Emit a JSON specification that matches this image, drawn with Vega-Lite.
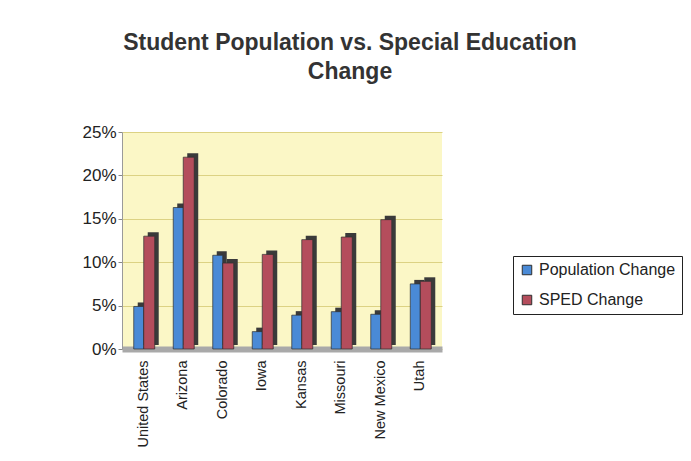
{
  "$schema": "https://vega.github.io/schema/vega-lite/v6.json",
  "autosize": "none",
  "width": 320,
  "height": 217,
  "padding": {"left": 122, "top": 132, "right": 249, "bottom": 112},
  "background": "white",
  "title": {
    "text": ["Student Population vs. Special Education", "Change"],
    "font": "Liberation Sans",
    "fontSize": 23,
    "fontWeight": "bold",
    "color": "#333333",
    "lineHeight": 29,
    "anchor": "middle",
    "frame": "group",
    "dx": 68,
    "offset": 39
  },
  "data": {
    "values": [
      {"state": "United States", "series": "Population Change", "value": 0.049},
      {"state": "United States", "series": "SPED Change", "value": 0.130},
      {"state": "Arizona", "series": "Population Change", "value": 0.163},
      {"state": "Arizona", "series": "SPED Change", "value": 0.221},
      {"state": "Colorado", "series": "Population Change", "value": 0.108},
      {"state": "Colorado", "series": "SPED Change", "value": 0.099},
      {"state": "Iowa", "series": "Population Change", "value": 0.020},
      {"state": "Iowa", "series": "SPED Change", "value": 0.109},
      {"state": "Kansas", "series": "Population Change", "value": 0.039},
      {"state": "Kansas", "series": "SPED Change", "value": 0.126},
      {"state": "Missouri", "series": "Population Change", "value": 0.043},
      {"state": "Missouri", "series": "SPED Change", "value": 0.129},
      {"state": "New Mexico", "series": "Population Change", "value": 0.040},
      {"state": "New Mexico", "series": "SPED Change", "value": 0.149},
      {"state": "Utah", "series": "Population Change", "value": 0.075},
      {"state": "Utah", "series": "SPED Change", "value": 0.078}
    ]
  },
  "encoding": {
    "x": {
      "field": "state",
      "type": "nominal",
      "sort": null,
      "scale": {"paddingInner": 0, "paddingOuter": 0.05},
      "axis": {
        "title": null,
        "labelAngle": -90,
        "labelFont": "Liberation Sans",
        "labelFontSize": 14.5,
        "labelColor": "#222222",
        "labelPadding": 11,
        "ticks": false,
        "domainColor": "#a9a9a9",
        "domainWidth": 6
      }
    },
    "y": {
      "field": "value",
      "type": "quantitative",
      "scale": {"domain": [0, 0.25], "nice": false},
      "axis": {
        "title": null,
        "format": ".0%",
        "values": [0, 0.05, 0.1, 0.15, 0.2, 0.25],
        "labelFont": "Liberation Sans",
        "labelFontSize": 17,
        "labelColor": "#222222",
        "labelPadding": 2,
        "tickSize": 4,
        "tickColor": "#888888",
        "domainColor": "#9a9a9a",
        "gridColor": "#dcd283",
        "gridWidth": 1
      }
    }
  },
  "layer": [
    {
      "transform": [{"filter": "datum.series === 'Population Change'"}],
      "mark": {"type": "bar", "color": "#3a3a3a", "width": 10, "xOffset": -1, "yOffset": -4}
    },
    {
      "transform": [{"filter": "datum.series === 'SPED Change'"}],
      "mark": {"type": "bar", "color": "#3a3a3a", "width": 11, "xOffset": 9.5, "yOffset": -4}
    },
    {
      "transform": [{"filter": "datum.series === 'Population Change'"}],
      "mark": {"type": "bar", "width": 10, "xOffset": -5, "stroke": "#2e2e2e", "strokeWidth": 0.7},
      "encoding": {
        "color": {"field": "series", "type": "nominal", "scale": {"domain": ["Population Change", "SPED Change"], "range": ["#4a8ad6", "#b44d5c"]}}
      }
    },
    {
      "transform": [{"filter": "datum.series === 'SPED Change'"}],
      "mark": {"type": "bar", "width": 11, "xOffset": 5.5, "stroke": "#2e2e2e", "strokeWidth": 0.7},
      "encoding": {
        "color": {
          "field": "series",
          "type": "nominal",
          "scale": {"domain": ["Population Change", "SPED Change"], "range": ["#4a8ad6", "#b44d5c"]},
          "legend": {
            "title": null,
            "orient": "none",
            "legendX": 391,
            "legendY": 124,
            "direction": "vertical",
            "padding": 6,
            "strokeColor": "#222222",
            "symbolType": "square",
            "symbolSize": 90,
            "symbolStrokeColor": "#333333",
            "symbolStrokeWidth": 1,
            "labelFont": "Liberation Sans",
            "labelFontSize": 16,
            "labelColor": "#222222",
            "labelOffset": 4,
            "rowPadding": 14
          }
        }
      }
    }
  ],
  "config": {
    "view": {"fill": "#fbf7c6", "stroke": null}
  }
}
